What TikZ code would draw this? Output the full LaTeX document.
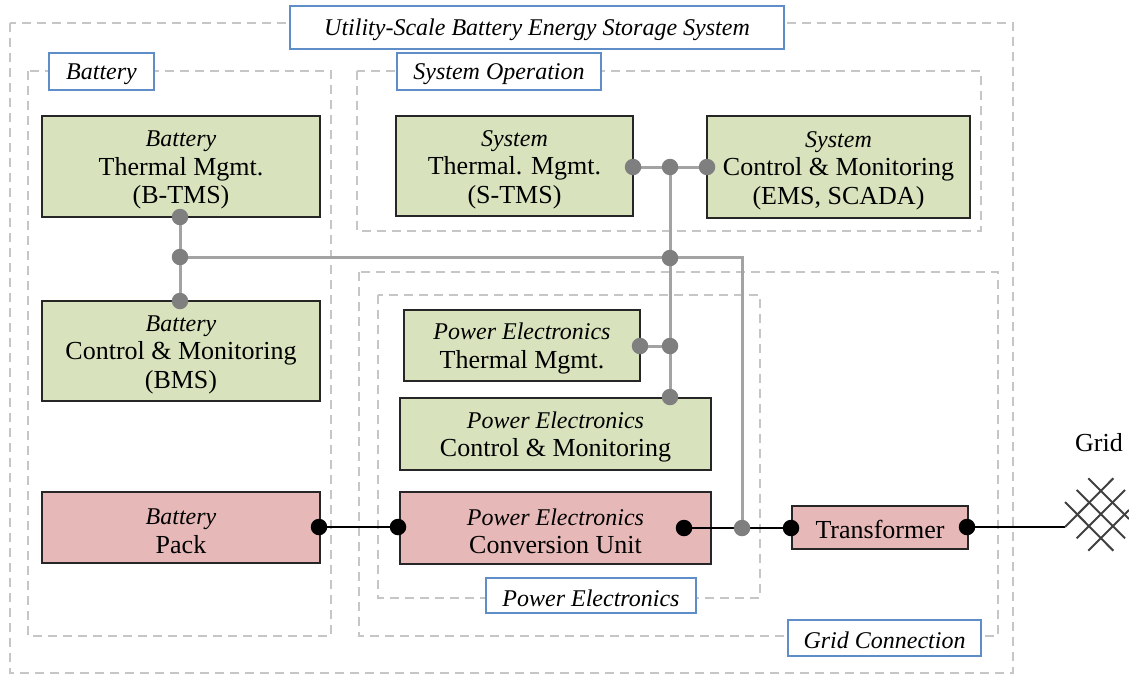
\documentclass[tikz,border=0pt]{standalone}
\usepackage{fontspec}
\setmainfont{Liberation Serif}
\usetikzlibrary{positioning}
\pgfdeclarelayer{front}
\pgfsetlayers{main,front}
\definecolor{boxgreen}{HTML}{D8E3BD}
\definecolor{boxred}{HTML}{E6B8B7}
\definecolor{tagblue}{HTML}{5F8DC8}
\definecolor{dashgray}{HTML}{C6C6C6}
\definecolor{wiregray}{HTML}{A3A3A3}
\definecolor{dotgray}{HTML}{7F7F7F}
\newcommand{\ital}[1]{{\rule{0pt}{23pt}\fontsize{24}{28.5}\selectfont\itshape #1}}

\begin{document}
\begin{tikzpicture}[x=1pt, y=-1pt,
every node/.style={align=center, inner sep=0pt, font=\fontsize{26}{28.5}\selectfont},
group/.style={draw=dashgray, line width=1.8pt, dash pattern=on 9pt off 6pt},
lowered/.style={execute at begin node={\rule{0pt}{22pt}}},
tag/.style={lowered, draw=tagblue, line width=1.8pt, fill=white, font=\fontsize{24}{28.5}\selectfont\itshape},
green/.style={draw=black!85, line width=1.5pt, fill=boxgreen},
red/.style={draw=black!85, line width=1.5pt, fill=boxred},
gdot/.style={circle, fill=dotgray, minimum size=16.5pt},
bdot/.style={circle, fill=black, minimum size=16.5pt},
paths/.style={draw=wiregray, line width=3pt},
power/.style={draw=black, line width=2.4pt},
mesh/.style={draw=black!75, line width=2pt}
]
\useasboundingbox (0,0) rectangle (1129,675);

%create groups
\draw[group] (10,23) rectangle (1013,673);
\draw[group] (28,71) rectangle (331,636);
\draw[group] (357,71) rectangle (981,231);
\draw[group] (359,272) rectangle (998,636);
\draw[group] (378,295) rectangle (760,598);

\node[tag, minimum width=494pt, minimum height=43pt] (usbess) at (537,27.5) {Utility-Scale Battery Energy Storage System};
\node[tag, minimum width=105pt, minimum height=37pt] (tbat) at (101.5,71.5) {Battery};
\node[tag, minimum width=204pt, minimum height=37pt] (tsys) at (499,71.5) {System Operation};
\node[tag, minimum width=210pt, minimum height=35pt] (tpe) at (591,595.5) {Power Electronics};
\node[tag, minimum width=193pt, minimum height=36pt] (tgrid) at (884.5,638) {Grid Connection};

%create boxes
\node[green, minimum width=278pt, minimum height=101pt] (btms) at (181,166.5) {\ital{Battery}\\Thermal Mgmt.\\(B-TMS)};
\node[green, minimum width=278pt, minimum height=100pt] (bms) at (181,351) {\ital{Battery}\\Control \& Monitoring\\(BMS)};
\node[red, minimum width=278pt, minimum height=71pt] (pack) at (181,527.5) {\ital{Battery}\\Pack};
\node[green, minimum width=237pt, minimum height=100pt] (stms) at (514.5,166) {\ital{System}\\Thermal. Mgmt.\\(S-TMS)};
\node[green, minimum width=263pt, minimum height=102pt] (scm) at (838.5,167) {\ital{System}\\Control \& Monitoring\\(EMS, SCADA)};
\node[green, minimum width=236pt, minimum height=71pt] (petm) at (522,345.5) {\ital{Power Electronics}\\Thermal Mgmt.};
\node[green, minimum width=311pt, minimum height=72pt] (pecm) at (555.5,434) {\ital{Power Electronics}\\Control \& Monitoring};
\node[red, minimum width=311pt, minimum height=72pt] (pecu) at (555.5,528) {\ital{Power Electronics}\\Conversion Unit};
\node[red, lowered, minimum width=176pt, minimum height=43pt] (trafo) at (880,527.5) {Transformer};
\node (gridlabel) at (1099,443) {Grid};

%create dots
\begin{pgfonlayer}{front}
\node[gdot] (d1) at (180,217) {};
\node[gdot] (d2) at (180,257) {};
\node[gdot] (d3) at (180,301) {};
\node[gdot] (d4) at (633,167) {};
\node[gdot] (d5) at (670,167) {};
\node[gdot] (d6) at (707,167) {};
\node[gdot] (d7) at (670,258) {};
\node[gdot] (d8) at (640,346) {};
\node[gdot] (d9) at (670,346) {};
\node[gdot] (d10) at (670,397) {};
\node[gdot] (d11) at (742,528) {};
\node[bdot] (p1) at (319,527) {};
\node[bdot] (p2) at (398,527) {};
\node[bdot] (p3) at (684,528) {};
\node[bdot] (p4) at (791,528) {};
\node[bdot] (p5) at (967,527) {};
\end{pgfonlayer}
\coordinate (gridin) at (1065,527);
\coordinate (bend) at (742,257);

%draw paths
\draw[paths] (d1.center) -- (d3.center);
\draw[paths] (d2.center) -- (bend) -- (d11.center);
\draw[paths] (d4.center) -- (d6.center);
\draw[paths] (d5.center) -- (d10.center);
\draw[paths] (d8.center) -- (d9.center);

\draw[power] (p1.center) -- (p2.center);
\draw[power] (p3.center) -- (p4.center);
\draw[power] (p5.center) -- (gridin);

%draw grid
\draw[mesh] (1065,502) -- (1113.3,550.7);
\draw[mesh] (1076.7,490) -- (1125,538.3);
\draw[mesh] (1088.3,478.3) -- (1129,519);
\draw[mesh] (1113.3,478.3) -- (gridin);
\draw[mesh] (1125,490) -- (1076.7,538.3);
\draw[mesh] (1129,510) -- (1088.3,550.7);

\end{tikzpicture}
\end{document}
